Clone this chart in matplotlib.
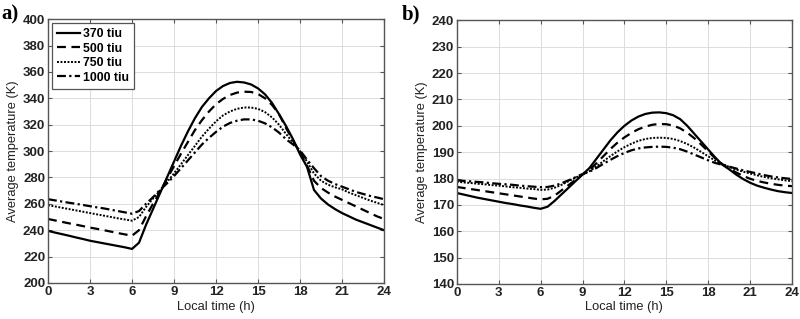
import numpy as np
import matplotlib
matplotlib.use("Agg")
import matplotlib.pyplot as plt

# ---------------- data ----------------
hours = [i * 0.5 for i in range(49)]  # 0 .. 24 h
labels = ["370 tiu", "500 tiu", "750 tiu", "1000 tiu"]

a_370 = [239.5, 238.2, 237.0, 235.8, 234.5, 233.3, 232.0, 231.0, 230.0, 229.0, 228.0, 227.0,
         225.8, 230.5, 244.0, 256.0, 268.0, 280.0, 292.0, 304.0, 315.0, 325.0, 333.5, 340.0,
         345.5, 349.3, 351.6, 352.5, 352.0, 350.5, 347.5, 343.0, 336.5, 328.0, 319.0, 309.0,
         297.5, 288.0, 270.5, 264.0, 259.5, 256.0, 253.0, 250.5, 248.0, 246.0, 244.0, 242.0, 240.0]
a_500 = [248.5, 247.4, 246.3, 245.2, 244.2, 243.1, 242.0, 241.0, 240.0, 238.9, 237.8, 236.8,
         235.8, 240.0, 250.5, 260.0, 269.0, 279.0, 288.5, 298.0, 307.0, 316.0, 323.5, 330.0,
         335.5, 339.5, 342.5, 344.3, 345.0, 344.8, 343.3, 340.0, 335.0, 328.0, 317.5, 308.0,
         299.0, 289.0, 277.5, 272.0, 268.5, 265.5, 263.0, 260.5, 258.0, 255.5, 253.0, 250.5, 248.5]
a_750 = [259.0, 258.0, 257.0, 256.0, 255.0, 254.0, 253.0, 252.0, 251.0, 250.0, 249.0, 248.1,
         247.2, 250.0, 257.5, 264.0, 270.0, 276.5, 283.0, 290.0, 297.0, 304.0, 311.0, 317.0,
         322.5, 327.0, 330.0, 332.0, 333.0, 333.0, 332.0, 329.5, 325.5, 320.0, 313.0, 306.5,
         300.0, 292.0, 283.0, 277.5, 274.5, 272.5, 271.0, 268.5, 266.5, 264.5, 262.5, 260.8, 259.0]
a_1000 = [263.5, 262.6, 261.7, 260.8, 260.0, 259.1, 258.2, 257.3, 256.5, 255.5, 254.5, 253.5,
          252.5, 254.5, 260.0, 265.0, 270.5, 275.5, 281.0, 287.0, 293.0, 299.0, 305.0, 310.0,
          314.5, 318.5, 321.3, 323.0, 324.0, 324.0, 323.0, 321.0, 318.0, 314.0, 309.0, 305.0,
          300.5, 293.5, 287.0, 281.0, 277.5, 275.0, 273.0, 271.0, 269.0, 267.5, 266.0, 264.8, 263.5]

b_370 = [174.5, 173.9, 173.3, 172.7, 172.2, 171.7, 171.2, 170.7, 170.3, 169.8, 169.4, 168.9,
         168.5, 169.3, 171.5, 174.0, 176.5, 179.0, 181.5, 184.0, 187.5, 191.0, 194.5, 197.5,
         200.0, 202.0, 203.5, 204.5, 205.0, 205.1, 204.8, 204.0, 202.5, 200.0, 197.0, 194.0,
         191.0, 188.0, 185.3, 183.5, 181.5, 179.8, 178.4, 177.3, 176.5, 175.8, 175.2, 174.8, 174.5]
b_500 = [176.8, 176.4, 176.0, 175.6, 175.2, 174.8, 174.4, 174.0, 173.6, 173.2, 172.8, 172.4,
         172.1, 172.3, 173.5, 175.5, 177.5, 179.5, 181.5, 183.2, 185.8, 188.5, 191.2, 193.6,
         195.6, 197.3, 198.7, 199.7, 200.4, 200.7, 200.6, 200.1, 199.0, 197.4, 195.3, 192.9,
         190.3, 187.7, 185.5, 183.8, 182.3, 181.0, 179.9, 179.1, 178.5, 178.0, 177.6, 177.3, 177.1]
b_750 = [178.8, 178.5, 178.3, 178.0, 177.8, 177.5, 177.3, 177.0, 176.7, 176.5, 176.2, 176.0,
         175.7, 175.8, 176.5, 177.6, 179.0, 180.3, 181.6, 182.8, 184.6, 186.6, 188.5, 190.3,
         191.9, 193.2, 194.3, 195.0, 195.4, 195.5, 195.4, 195.0, 194.2, 193.1, 191.7, 190.1,
         188.4, 186.8, 185.5, 184.4, 183.4, 182.6, 181.9, 181.2, 180.6, 180.1, 179.7, 179.3, 179.0]
b_1000 = [179.3, 179.1, 178.9, 178.7, 178.5, 178.2, 178.0, 177.8, 177.6, 177.3, 177.1, 176.9,
          176.7, 176.8, 177.3, 178.2, 179.3, 180.5, 181.7, 182.6, 184.0, 185.6, 187.1, 188.5,
          189.7, 190.7, 191.4, 191.8, 192.0, 192.1, 192.0, 191.7, 191.1, 190.2, 189.1, 188.0,
          186.9, 185.9, 185.2, 184.5, 183.8, 183.1, 182.5, 181.9, 181.3, 180.8, 180.4, 180.1, 179.8]

xticks = [0, 3, 6, 9, 12, 15, 18, 21, 24]
a_yticks = list(range(200, 401, 20))
b_yticks = list(range(140, 241, 10))

# ---------------- style ----------------
plt.rcParams['font.family'] = ['Liberation Sans', 'DejaVu Sans']
styles = [dict(ls='-', lw=1.6), dict(ls=(0, (4, 2.5)), lw=1.6),
          dict(ls=(0, (1, 0.8)), lw=1.4), dict(ls=(0, (4, 1.5, 1, 1.5)), lw=1.6)]

fig = plt.figure(figsize=(8.0, 3.19), dpi=100)
ax_a = fig.add_axes([0.060, 0.113, 0.420, 0.827])
ax_b = fig.add_axes([0.571, 0.110, 0.419, 0.826])

def setup(ax, yticks):
    ax.set_xlim(0, 24)
    ax.set_ylim(yticks[0], yticks[-1])
    ax.set_xticks(xticks)
    ax.set_yticks(yticks)
    ax.grid(True, color='#dddddd', lw=0.7)
    ax.set_axisbelow(True)
    for s in ax.spines.values():
        s.set_color('#555555')
        s.set_linewidth(1.0)
    ax.tick_params(direction='in', length=3, width=0.8, color='#555555',
                   top=True, right=True, labelsize=9.5, pad=2)
    for lab in ax.get_xticklabels() + ax.get_yticklabels():
        lab.set_fontweight('bold')
        lab.set_color('#222222')
    ax.set_xlabel('Local time (h)', fontsize=9.3, labelpad=2, color='#222222')
    ax.set_ylabel('Average temperature (K)', fontsize=9.3, labelpad=3, color='#222222')

for data, st, lab in zip([a_370, a_500, a_750, a_1000], styles, labels):
    ax_a.plot(hours, data, color='black', label=lab, **st)
for data, st in zip([b_370, b_500, b_750, b_1000], styles):
    ax_b.plot(hours, data, color='black', **st)

setup(ax_a, a_yticks)
setup(ax_b, b_yticks)

leg = ax_a.legend(loc='upper left', fontsize=8.8, handlelength=1.9, handletextpad=0.2,
                  borderpad=0.4, labelspacing=0.2, fancybox=False, framealpha=1,
                  edgecolor='#555555', borderaxespad=0.35)
for t in leg.get_texts():
    t.set_fontweight('bold')
leg.get_frame().set_linewidth(0.9)

fig.text(0.002, 0.955, 'a)', fontsize=15, fontweight='bold', family='Liberation Serif', va='center')
fig.text(0.502, 0.955, 'b)', fontsize=15, fontweight='bold', family='Liberation Serif', va='center')

fig.savefig('out.png', dpi=100)
